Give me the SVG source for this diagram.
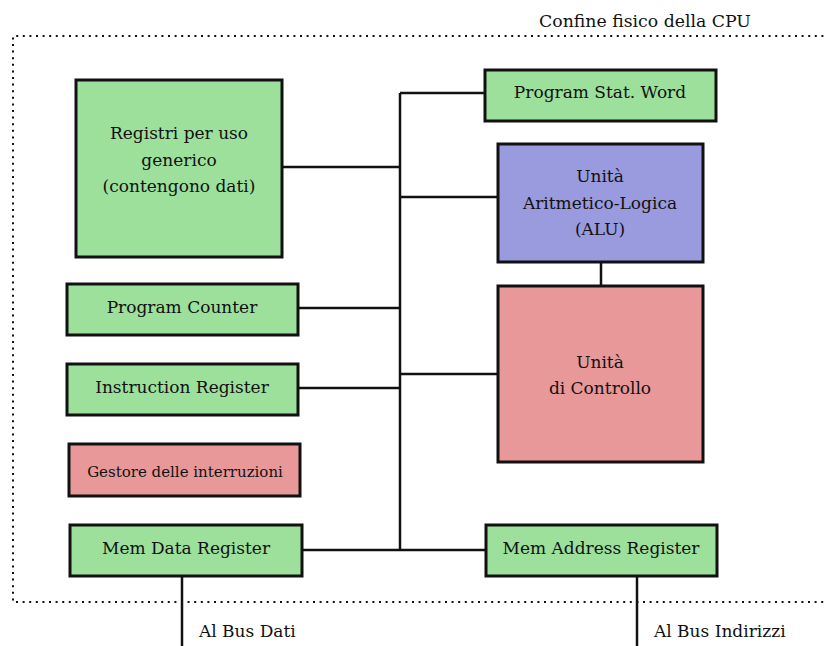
<svg xmlns="http://www.w3.org/2000/svg" width="826" height="646" viewBox="0 0 826 646">
<style>
text{font-family:"DejaVu Serif","Liberation Serif",serif;font-size:17px;fill:#111;text-anchor:middle}
.box{stroke:#111;stroke-width:3}
.g{fill:#9ce09c}
.b{fill:#9a9ade}
.r{fill:#e89898}
.c{stroke:#111;stroke-width:2.5;fill:none}
.border{stroke:#111;stroke-width:2;stroke-dasharray:2 4.6;fill:none}
.lbl{text-anchor:start}
</style>
<rect width="826" height="646" fill="#fff"/>
<g id="cpu-boundary">
<path class="border" d="M830,36 H13 V602 H830"/>
<text x="645" y="27" style="font-size:17.3px">Confine fisico della CPU</text>
</g>
<g id="connectors">
<path class="c" d="M400,93 V551"/>
<path class="c" d="M400,93 H485"/>
<path class="c" d="M282,167 H400"/>
<path class="c" d="M400,197 H498"/>
<path class="c" d="M298,308 H400"/>
<path class="c" d="M298,388 H400"/>
<path class="c" d="M400,374 H498"/>
<path class="c" d="M302,550 H486"/>
<path class="c" d="M601,262 V286"/>
<path class="c" d="M182,577 V646"/>
<path class="c" d="M637,577 V646"/>
</g>
<g id="registri">
<rect class="box g" x="76" y="80" width="206" height="177"/>
<text x="179" y="139">Registri per uso</text>
<text x="179" y="166">generico</text>
<text x="179" y="192">(contengono dati)</text>
</g>
<g id="psw">
<rect class="box g" x="485" y="70" width="231" height="51"/>
<text x="600" y="98">Program Stat. Word</text>
</g>
<g id="alu">
<rect class="box b" x="498" y="144" width="205" height="118"/>
<text x="600" y="182">Unità</text>
<text x="600" y="209">Aritmetico-Logica</text>
<text x="600" y="235">(ALU)</text>
</g>
<g id="cu">
<rect class="box r" x="498" y="286" width="205" height="176"/>
<text x="600" y="368">Unità</text>
<text x="600" y="394">di Controllo</text>
</g>
<g id="pc">
<rect class="box g" x="67" y="284" width="231" height="51"/>
<text x="182" y="313">Program Counter</text>
</g>
<g id="ir">
<rect class="box g" x="67" y="364" width="231" height="51"/>
<text x="182" y="393">Instruction Register</text>
</g>
<g id="interrupt">
<rect class="box r" x="69" y="444" width="231" height="52"/>
<text x="185" y="477" style="font-size:15px">Gestore delle interruzioni</text>
</g>
<g id="mdr">
<rect class="box g" x="70" y="525" width="232" height="51"/>
<text x="186" y="554">Mem Data Register</text>
</g>
<g id="mar">
<rect class="box g" x="486" y="525" width="231" height="51"/>
<text x="601" y="554">Mem Address Register</text>
</g>
<g id="bus-labels">
<text class="lbl" x="199" y="637">Al Bus Dati</text>
<text class="lbl" x="654" y="637">Al Bus Indirizzi</text>
</g>
</svg>
